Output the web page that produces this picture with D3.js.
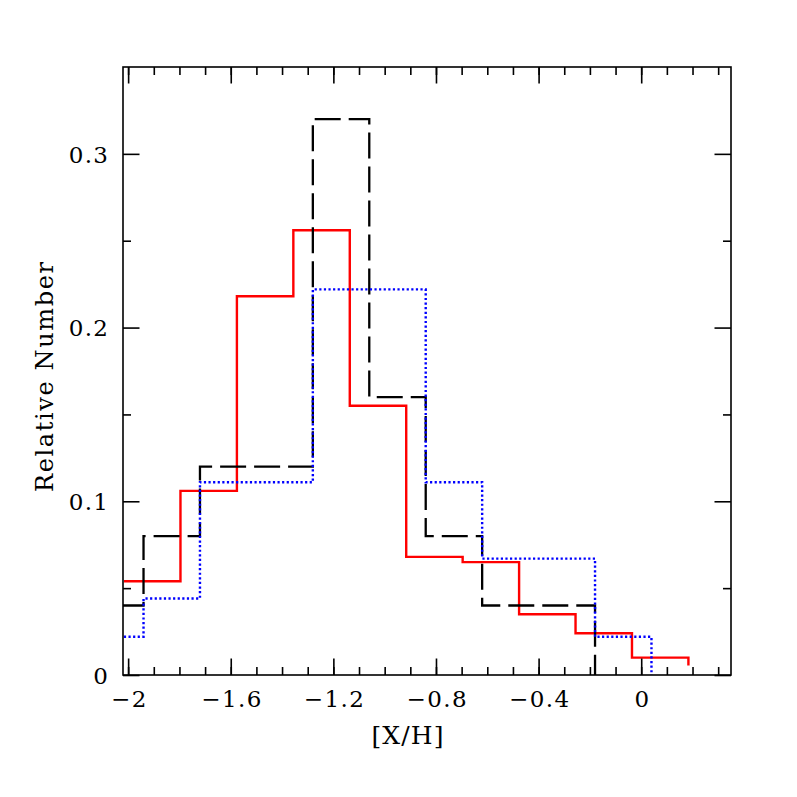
<!DOCTYPE html>
<html>
<head>
<meta charset="utf-8">
<script src="https://cdn.jsdelivr.net/npm/d3@7"></script>
<style>
  html, body { margin: 0; padding: 0; background: #fff; }
  svg { display: block; }
  text { font-family: "DejaVu Serif", serif; fill: #000; }
</style>
</head>
<body>
<svg id="chart" width="797" height="797"></svg>
<script>
// ---- data ----
const blackEdges  = [-2.16, -1.94, -1.72, -1.50, -1.28, -1.06, -0.84, -0.62, -0.40, -0.18];
const blackValues = [0.040, 0.080, 0.120, 0.120, 0.320, 0.160, 0.080, 0.040, 0.040];
const blackEnd = 0;

const blueEdges  = [-2.16, -1.94, -1.72, -1.50, -1.28, -1.06, -0.84, -0.62, -0.40, -0.18, 0.04];
const blueValues = [0.022, 0.044, 0.111, 0.111, 0.222, 0.222, 0.111, 0.067, 0.067, 0.022];
const blueEnd = 0;

const redEdges  = [-2.016, -1.796, -1.576, -1.356, -1.136, -0.916, -0.696, -0.476, -0.256, -0.036, 0.184];
const redValues = [0.054, 0.106, 0.218, 0.256, 0.155, 0.068, 0.065, 0.035, 0.024, 0.010];
const redEnd = 0.0054;

const xMajorTicks = [-2, -1.6, -1.2, -0.8, -0.4, 0];
const xTickLabels = ["\u22122", "\u22121.6", "\u22121.2", "\u22120.8", "\u22120.4", "0"];
const xMinorTicks = [-2.0,-1.9,-1.8,-1.7,-1.6,-1.5,-1.4,-1.3,-1.2,-1.1,-1.0,-0.9,-0.8,-0.7,-0.6,-0.5,-0.4,-0.3,-0.2,-0.1,0,0.1,0.2,0.3];
const yMajorTicks = [0, 0.1, 0.2, 0.3];
const yTickLabels = ["0", "0.1", "0.2", "0.3"];
const yMinorTicks = [0.05, 0.15, 0.25];
const xDomain = [-2.02, 0.35];
const yDomain = [0, 0.35];
const xTitle = "[X/H]";
const yTitle = "Relative Number";

// ---- layout ----
const L = 123, R = 731, T = 67, B = 675;
const majorLen = 16.5, minorLen = 8;

const svg = d3.select("#chart");
const x = d3.scaleLinear().domain(xDomain).range([L, R]);
const y = d3.scaleLinear().domain(yDomain).range([B, T]);

svg.append("defs").append("clipPath").attr("id", "plotclip")
  .append("rect").attr("x", L).attr("y", T).attr("width", R - L).attr("height", B - T);

function stepPoints(edges, values, endVal) {
  const pts = [];
  values.forEach((v, i) => { pts.push([edges[i], v]); pts.push([edges[i + 1], v]); });
  pts.push([edges[edges.length - 1], endVal]);
  return pts;
}
const line = d3.line().x(d => x(d[0])).y(d => y(d[1]));

const plot = svg.append("g").attr("clip-path", "url(#plotclip)");
plot.append("path").attr("d", line(stepPoints(redEdges, redValues, redEnd)))
  .attr("fill", "none").attr("stroke", "#ff0000").attr("stroke-width", 2.4);
plot.append("path").attr("d", line(stepPoints(blackEdges, blackValues, blackEnd)))
  .attr("fill", "none").attr("stroke", "#000").attr("stroke-width", 2.3)
  .attr("stroke-dasharray", "26,8");
plot.append("path").attr("d", line(stepPoints(blueEdges, blueValues, blueEnd)))
  .attr("fill", "none").attr("stroke", "#0000ff").attr("stroke-width", 2.4)
  .attr("stroke-dasharray", "2.2,2.4");

// ---- axes (ticks inward on all four sides) ----
function styleAxis(g) {
  g.select(".domain").remove();
  g.selectAll(".tick line").attr("stroke", "#000").attr("stroke-width", 1.6);
}
// bottom
svg.append("g").attr("transform", `translate(0,${B})`)
  .call(d3.axisBottom(x).tickValues(xMinorTicks).tickSize(-minorLen).tickFormat(""))
  .call(styleAxis);
const bx = svg.append("g").attr("transform", `translate(0,${B})`)
  .call(d3.axisBottom(x).tickValues(xMajorTicks).tickSize(-majorLen).tickPadding(0)
    .tickFormat((d, i) => xTickLabels[i]))
  .call(styleAxis);
bx.selectAll(".tick text").attr("y", 32).attr("dy", 0).attr("dx", "0.7")
  .style("font-family", "DejaVu Serif").style("font-size", "23px")
  .style("letter-spacing", "1.4px").attr("fill", "#000");
// top
svg.append("g").attr("transform", `translate(0,${T})`)
  .call(d3.axisTop(x).tickValues(xMinorTicks).tickSize(-minorLen).tickFormat(""))
  .call(styleAxis);
svg.append("g").attr("transform", `translate(0,${T})`)
  .call(d3.axisTop(x).tickValues(xMajorTicks).tickSize(-majorLen).tickFormat(""))
  .call(styleAxis);
// left
svg.append("g").attr("transform", `translate(${L},0)`)
  .call(d3.axisLeft(y).tickValues(yMinorTicks).tickSize(-minorLen).tickFormat(""))
  .call(styleAxis);
const ly = svg.append("g").attr("transform", `translate(${L},0)`)
  .call(d3.axisLeft(y).tickValues(yMajorTicks).tickSize(-majorLen).tickPadding(0)
    .tickFormat((d, i) => yTickLabels[i]))
  .call(styleAxis);
ly.selectAll(".tick text").attr("x", -13.6).attr("dy", "0.36em")
  .style("font-family", "DejaVu Serif").style("font-size", "23px")
  .style("letter-spacing", "1.4px").attr("fill", "#000");
// right
svg.append("g").attr("transform", `translate(${R},0)`)
  .call(d3.axisRight(y).tickValues(yMinorTicks).tickSize(-minorLen).tickFormat(""))
  .call(styleAxis);
svg.append("g").attr("transform", `translate(${R},0)`)
  .call(d3.axisRight(y).tickValues(yMajorTicks).tickSize(-majorLen).tickFormat(""))
  .call(styleAxis);

// frame
svg.append("rect").attr("x", L).attr("y", T).attr("width", R - L).attr("height", B - T)
  .attr("fill", "none").attr("stroke", "#000").attr("stroke-width", 1.6);

// titles
svg.append("text").attr("x", 407.5).attr("y", 743.5).attr("text-anchor", "middle")
  .style("font-size", "25px").attr("textLength", 72).attr("lengthAdjust", "spacing")
  .text(xTitle);
svg.append("text").attr("transform", "translate(52.5,377) rotate(-90)")
  .attr("text-anchor", "middle").style("font-size", "24px")
  .attr("textLength", 230).attr("lengthAdjust", "spacing")
  .text(yTitle);
</script>
</body>
</html>
